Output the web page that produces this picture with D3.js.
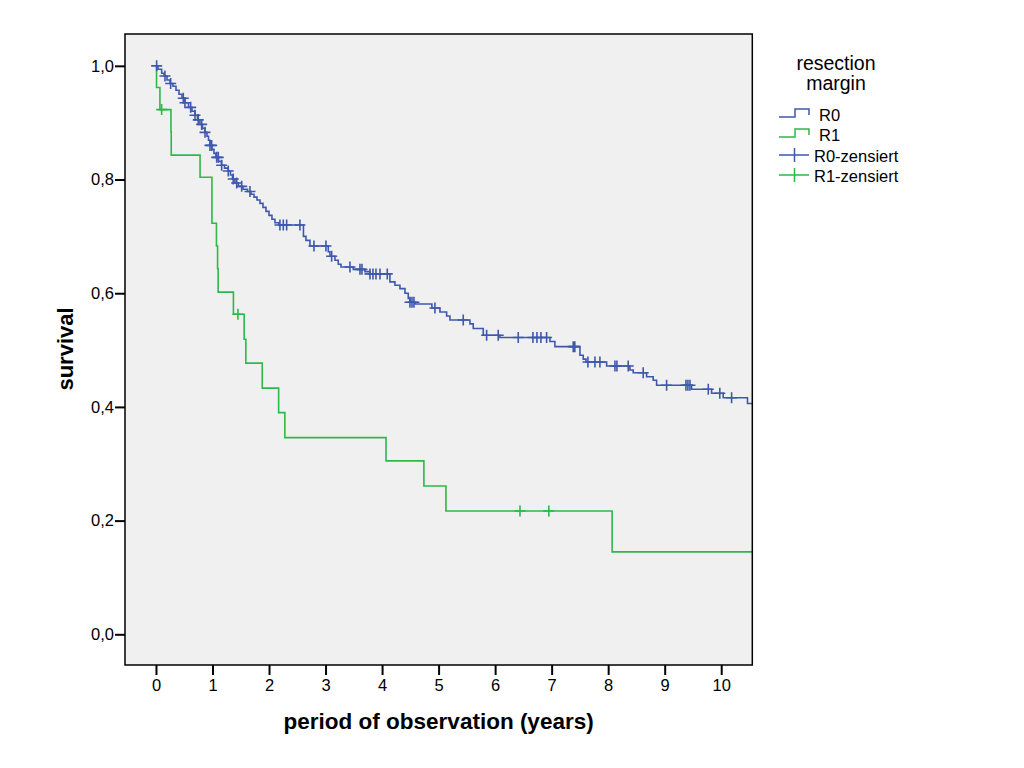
<!DOCTYPE html>
<html>
<head>
<meta charset="utf-8">
<script src="https://cdn.jsdelivr.net/npm/d3@7/dist/d3.min.js"></script>
<style>
  html, body { margin: 0; padding: 0; background: #ffffff; }
  svg { display: block; font-family: "Liberation Sans", Arial, sans-serif; }
</style>
</head>
<body>
<svg id="chart" width="1024" height="768"></svg>
<script>
// ---------- data ----------
const xTicks = [0, 1, 2, 3, 4, 5, 6, 7, 8, 9, 10];
const yTicks = [0.0, 0.2, 0.4, 0.6, 0.8, 1.0];
const groupNames = ["R0", "R1"];
const legendTitle = ["resection", "margin"];
const legendLabels = ["R0", "R1", "R0-zensiert", "R1-zensiert"];
const xTitle = "period of observation (years)";
const yTitle = "survival";

// R0: event times (years) and survival after each drop
const r0Time = [0.035, 0.101, 0.142, 0.195, 0.248, 0.301, 0.354, 0.407, 0.460, 0.513,
  0.575, 0.637, 0.690, 0.734, 0.778, 0.823, 0.867, 0.902, 0.929, 0.955,
  0.991, 1.026, 1.061, 1.106, 1.159, 1.212, 1.274, 1.318, 1.353, 1.397,
  1.459, 1.539, 1.619, 1.681, 1.734, 1.787, 1.840, 1.893, 1.946, 1.999,
  2.052, 2.105, 2.176, 2.609, 2.653, 2.724, 3.048, 3.078, 3.166, 3.225,
  3.273, 3.490, 3.697, 3.786, 4.139, 4.228, 4.316, 4.405, 4.463, 4.493,
  4.582, 4.882, 5.024, 5.142, 5.201, 5.555, 5.613, 5.790, 6.085, 6.970,
  7.058, 7.501, 7.559, 7.607, 7.973, 8.385, 8.443, 8.680, 8.797, 8.857,
  9.476, 9.830, 10.035, 10.465];
const r0Surv = [0.994, 0.987, 0.982, 0.975, 0.969, 0.964, 0.957, 0.950, 0.943, 0.935,
  0.927, 0.920, 0.913, 0.905, 0.897, 0.890, 0.883, 0.876, 0.869, 0.860,
  0.853, 0.846, 0.839, 0.832, 0.825, 0.820, 0.815, 0.808, 0.801, 0.794,
  0.788, 0.783, 0.779, 0.774, 0.769, 0.764, 0.758, 0.751, 0.744, 0.737,
  0.730, 0.724, 0.720, 0.700, 0.693, 0.683, 0.673, 0.665, 0.658, 0.651,
  0.646, 0.642, 0.638, 0.634, 0.620, 0.614, 0.608, 0.600, 0.591, 0.584,
  0.581, 0.574, 0.567, 0.560, 0.553, 0.546, 0.538, 0.526, 0.522, 0.515,
  0.506, 0.491, 0.484, 0.479, 0.472, 0.465, 0.460, 0.453, 0.447, 0.438,
  0.431, 0.424, 0.416, 0.406];
// R0 censored times
const r0Censor = [0.012, 0.159, 0.260, 0.483, 0.513, 0.614, 0.690, 0.748, 0.808, 0.867,
  0.955, 0.985, 1.074, 1.102, 1.162, 1.279, 1.367, 1.428, 1.516, 1.663,
  2.193, 2.252, 2.312, 2.547, 2.795, 3.007, 3.108, 3.432, 3.609, 3.644,
  3.786, 3.839, 3.892, 3.963, 4.092, 4.493, 4.529, 4.564, 4.935, 5.436,
  5.850, 6.055, 6.409, 6.669, 6.740, 6.810, 6.911, 7.382, 7.410, 7.642,
  7.766, 7.854, 8.120, 8.155, 8.355, 8.620, 9.034, 9.376, 9.411, 9.447,
  9.771, 9.975, 10.184];

// R1: event times and survival after each drop
const r1Time = [0.01, 0.07, 0.265, 0.27, 0.78, 0.99, 1.07, 1.09, 1.10, 1.37,
  1.56, 1.59, 1.88, 2.17, 2.28, 4.07, 4.74, 5.13, 8.07];
const r1Surv = [0.962, 0.923, 0.884, 0.843, 0.804, 0.723, 0.683, 0.643, 0.602, 0.563,
  0.519, 0.477, 0.433, 0.390, 0.346, 0.305, 0.261, 0.217, 0.145];
const r1Censor = [0.10, 1.45, 6.44, 6.95];

const colors = ["#3E58AC", "#2EB848"];

// ---------- layout ----------
const svg = d3.select("#chart");
const plot = { left: 125, right: 752.3, top: 34, bottom: 665 };
const x = d3.scaleLinear().domain([-0.548, 10.55]).range([plot.left, plot.right]);
const y = d3.scaleLinear().domain([-0.054, 1.056]).range([plot.bottom, plot.top]);

svg.append("defs").append("clipPath").attr("id", "clip")
  .append("rect")
  .attr("x", plot.left).attr("y", plot.top)
  .attr("width", plot.right - plot.left).attr("height", plot.bottom - plot.top);

svg.append("rect")
  .attr("x", plot.left).attr("y", plot.top)
  .attr("width", plot.right - plot.left).attr("height", plot.bottom - plot.top)
  .attr("fill", "#F0F0F0");

// ---------- curves ----------
function buildSteps(times, surv) {
  const pts = [[0, 1]];
  times.forEach((t, i) => pts.push([t, surv[i]]));
  pts.push([x.domain()[1] + 0.1, surv[surv.length - 1]]);
  return pts;
}
function survAt(times, surv, t) {
  const i = d3.bisectRight(times, t);
  return i === 0 ? 1 : surv[i - 1];
}

const line = d3.line().x(d => x(d[0])).y(d => y(d[1])).curve(d3.curveStepAfter);
const gCurves = svg.append("g").attr("clip-path", "url(#clip)");

const groups = [
  { times: r0Time, surv: r0Surv, cens: r0Censor, color: colors[0] },
  { times: r1Time, surv: r1Surv, cens: r1Censor, color: colors[1] }
];

// draw R1 first so R0 sits on top like the reference
[groups[1], groups[0]].forEach(g => {
  gCurves.append("path")
    .attr("d", line(buildSteps(g.times, g.surv)))
    .attr("fill", "none")
    .attr("stroke", g.color)
    .attr("stroke-width", 1.6);
  const cm = 5.5;
  g.cens.forEach(t => {
    const cx = x(t), cy = y(survAt(g.times, g.surv, t));
    gCurves.append("path")
      .attr("d", `M${cx - cm},${cy}H${cx + cm}M${cx},${cy - cm}V${cy + cm}`)
      .attr("stroke", g.color)
      .attr("stroke-width", 1.6)
      .attr("fill", "none");
  });
});

// ---------- frame & axes ----------
svg.append("rect")
  .attr("x", plot.left).attr("y", plot.top)
  .attr("width", plot.right - plot.left).attr("height", plot.bottom - plot.top)
  .attr("fill", "none").attr("stroke", "#000").attr("stroke-width", 1.5);

const xAxis = d3.axisBottom(x).tickValues(xTicks).tickSize(10).tickPadding(4)
  .tickFormat(d3.format("d"));
const gx = svg.append("g").attr("transform", `translate(0,${plot.bottom})`).call(xAxis);
gx.select(".domain").remove();

const yAxis = d3.axisLeft(y).tickValues(yTicks).tickSize(10).tickPadding(1)
  .tickFormat(d => d3.format(".1f")(d).replace(".", ","));
const gy = svg.append("g").attr("transform", `translate(${plot.left},0)`).call(yAxis);
gy.select(".domain").remove();

[gx, gy].forEach(g => {
  g.selectAll(".tick line").attr("stroke", "#000").attr("stroke-width", 2);
  g.selectAll(".tick text")
    .attr("fill", "#000")
    .style("font-family", "'Liberation Sans', Arial, sans-serif")
    .style("font-size", "16.5px");
});

// axis titles
svg.append("text")
  .attr("x", (plot.left + plot.right) / 2).attr("y", 729)
  .attr("text-anchor", "middle")
  .style("font-size", "22.5px").style("font-weight", "bold")
  .text(xTitle);

svg.append("text")
  .attr("transform", "translate(73,349) rotate(-90)")
  .attr("text-anchor", "middle")
  .style("font-size", "22px").style("font-weight", "bold")
  .text(yTitle);

// ---------- legend ----------
const lg = svg.append("g");
legendTitle.forEach((t, i) => {
  lg.append("text")
    .attr("x", 836).attr("y", 70 + i * 20)
    .attr("text-anchor", "middle")
    .style("font-size", "19.5px")
    .text(t);
});

const itemY = [117, 137, 155, 175];
// step symbols
[0, 1].forEach(i => {
  const yl = itemY[i], yh = yl - 8;
  lg.append("path")
    .attr("d", `M779,${yl}H795V${yh}H809V${yl - 2}`)
    .attr("fill", "none").attr("stroke", colors[i]).attr("stroke-width", 1.5);
  lg.append("text")
    .attr("x", 819).attr("y", yl + 4)
    .style("font-size", "16.5px")
    .text(legendLabels[i]);
});
// censored symbols
[0, 1].forEach(i => {
  const yc = itemY[i + 2];
  lg.append("path")
    .attr("d", `M779,${yc}H809M794.5,${yc - 7}V${yc + 7}`)
    .attr("fill", "none").attr("stroke", colors[i]).attr("stroke-width", 1.5);
  lg.append("text")
    .attr("x", 814).attr("y", yc + 7)
    .style("font-size", "16.5px")
    .text(legendLabels[i + 2]);
});
</script>
</body>
</html>
